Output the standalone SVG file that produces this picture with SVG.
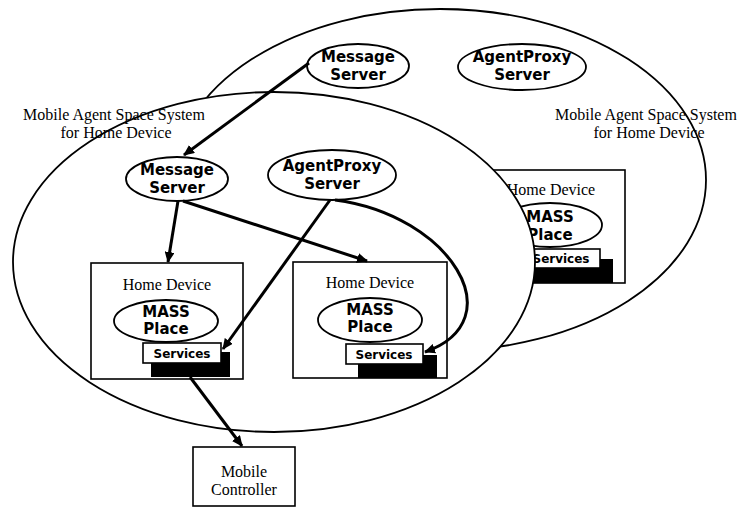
<svg xmlns="http://www.w3.org/2000/svg" width="737" height="508" viewBox="0 0 737 508">
<defs>
<marker id="ah" markerUnits="userSpaceOnUse" markerWidth="12" markerHeight="10" refX="10" refY="5" orient="auto">
<path d="M0,0 L11,5 L0,10 z" fill="#000"/>
</marker>
<style>
.sys{fill:#fff;stroke:#000;stroke-width:1.8}
.srv{fill:#fff;stroke:#000;stroke-width:1.8}
.box{fill:#fff;stroke:#000;stroke-width:1.6}
.sh{fill:#000}
.serif{font-family:"Liberation Serif","Times New Roman",serif;font-size:16px;fill:#000;text-anchor:middle}
.bold{font-family:"DejaVu Sans",Verdana,sans-serif;font-weight:bold;font-size:15px;fill:#000;text-anchor:middle}
.svc{font-family:"DejaVu Sans",Verdana,sans-serif;font-weight:bold;font-size:12px;fill:#000;text-anchor:middle}
.con{fill:none;stroke:#000;stroke-width:3;marker-end:url(#ah)}
</style>
</defs>
<rect width="737" height="508" fill="#fff"/>
<g id="back-system">
<ellipse class="sys" cx="440" cy="180" rx="266" ry="171"/>
<text class="serif" x="646" y="120">Mobile Agent Space System</text>
<text class="serif" x="649" y="138">for Home Device</text>
</g>
<g id="back-message-server">
<ellipse class="srv" cx="358" cy="66" rx="51" ry="22"/>
<text class="bold" x="358" y="62">Message</text>
<text class="bold" x="358" y="80">Server</text>
</g>
<g id="back-agentproxy-server">
<ellipse class="srv" cx="522" cy="67" rx="64" ry="23"/>
<text class="bold" x="522" y="62">AgentProxy</text>
<text class="bold" x="522" y="80">Server</text>
</g>
<g id="back-home-device">
<rect class="box" x="473" y="170" width="152" height="113"/>
<text class="serif" x="551" y="195">Home Device</text>
<ellipse class="srv" cx="550" cy="225" rx="52" ry="22"/>
<text class="bold" x="550" y="222">MASS</text>
<text class="bold" x="550" y="240">Place</text>
<rect class="sh" x="532" y="259" width="81" height="24"/>
<rect class="box" x="522" y="249" width="78" height="19"/>
<text class="svc" x="561" y="263">Services</text>
</g>
<g id="front-system">
<ellipse class="sys" cx="274" cy="262" rx="261" ry="170"/>
<text class="serif" x="114" y="120">Mobile Agent Space System</text>
<text class="serif" x="116" y="138">for Home Device</text>
</g>
<g id="message-server">
<ellipse class="srv" cx="177" cy="179" rx="51" ry="22"/>
<text class="bold" x="177" y="175">Message</text>
<text class="bold" x="177" y="193">Server</text>
</g>
<g id="agentproxy-server">
<ellipse class="srv" cx="332" cy="175" rx="64" ry="25"/>
<text class="bold" x="332" y="171">AgentProxy</text>
<text class="bold" x="332" y="189">Server</text>
</g>
<g id="home-device-1">
<rect class="box" x="91" y="263" width="152" height="116"/>
<text class="serif" x="167" y="290">Home Device</text>
<ellipse class="srv" cx="166" cy="321" rx="52" ry="21"/>
<text class="bold" x="166" y="317">MASS</text>
<text class="bold" x="166" y="334">Place</text>
<rect class="sh" x="151" y="352" width="79" height="25"/>
<rect class="box" x="143" y="343" width="78" height="20"/>
<text class="svc" x="182" y="358">Services</text>
</g>
<g id="home-device-2">
<rect class="box" x="293" y="262" width="154" height="116"/>
<text class="serif" x="370" y="288">Home Device</text>
<ellipse class="srv" cx="370" cy="320" rx="52" ry="22"/>
<text class="bold" x="370" y="315">MASS</text>
<text class="bold" x="370" y="332">Place</text>
<rect class="sh" x="358" y="355" width="79" height="23"/>
<rect class="box" x="346" y="344" width="77" height="20"/>
<text class="svc" x="384" y="359">Services</text>
</g>
<g id="mobile-controller">
<rect class="box" x="193" y="447" width="102" height="59"/>
<text class="serif" x="244" y="477">Mobile</text>
<text class="serif" x="244" y="495">Controller</text>
</g>
<g id="connectors">
<line class="con" x1="309" y1="63" x2="184" y2="155"/>
<line class="con" x1="178" y1="201" x2="168" y2="262"/>
<line class="con" x1="183" y1="201" x2="367" y2="261"/>
<line class="con" x1="330" y1="200" x2="223" y2="349"/>
<path class="con" d="M335,200 C450,215 515,320 425,352"/>
<line class="con" x1="190" y1="377" x2="242" y2="446"/>
</g>
</svg>
